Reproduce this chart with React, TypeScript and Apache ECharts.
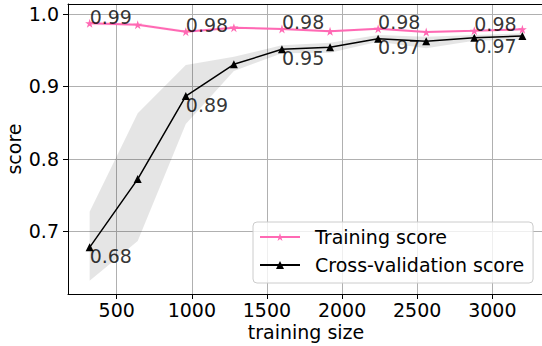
import React, { useEffect, useRef } from "react";
import * as echarts from "echarts";

const trainSizes = [320, 640, 960, 1280, 1600, 1920, 2240, 2560, 2880, 3200];
const trainMean = [0.9872, 0.9852, 0.9756, 0.9811, 0.9793, 0.9761, 0.9797, 0.9751, 0.9769, 0.9789];
const trainLower = [0.9845, 0.983, 0.9735, 0.9795, 0.9775, 0.9745, 0.978, 0.9735, 0.9755, 0.9775];
const trainUpper = [0.9899, 0.9874, 0.9777, 0.9827, 0.9811, 0.9777, 0.9814, 0.9767, 0.9783, 0.9803];
const cvMean = [0.6778, 0.7721, 0.8867, 0.9305, 0.9512, 0.954, 0.9659, 0.9623, 0.9673, 0.9696];
const cvLower = [0.6316, 0.6865, 0.848, 0.9213, 0.9457, 0.9465, 0.9617, 0.9526, 0.9631, 0.965];
const cvUpper = [0.7269, 0.8628, 0.9296, 0.941, 0.957, 0.9604, 0.971, 0.9686, 0.971, 0.9733];
const labelIndices = [0, 2, 4, 6, 8];
const xTicks = [500, 1000, 1500, 2000, 2500, 3000];
const yTicks = [0.7, 0.8, 0.9, 1.0];
const seriesNames = ["Training score", "Cross-validation score"];
const xTitle = "training size";
const yTitle = "score";

const FONT = "DejaVu Sans";
const PINK = "#ff69b4";

const starPath =
  "path://" +
  Array.from({ length: 10 }, (_, k) => {
    const r = k % 2 ? 0.382 : 1;
    const a = Math.PI / 2 + (k * Math.PI) / 5;
    return `${k ? "L" : "M"}${(r * Math.cos(a)).toFixed(4)} ${(-r * Math.sin(a)).toFixed(4)}`;
  }).join(" ") +
  " Z";

function bandSeries(lower: number[], upper: number[], fill: string) {
  return {
    type: "custom",
    silent: true,
    z: 1,
    data: trainSizes.map((x, i) => [x, lower[i], upper[i]]),
    encode: { x: 0, y: [1, 2] },
    renderItem: (params: any, api: any) => {
      if (params.dataIndex !== 0) return null;
      const pts: number[][] = [];
      for (let i = 0; i < trainSizes.length; i++) pts.push(api.coord([trainSizes[i], upper[i]]));
      for (let i = trainSizes.length - 1; i >= 0; i--) pts.push(api.coord([trainSizes[i], lower[i]]));
      return { type: "polygon", shape: { points: pts }, style: { fill, stroke: "none" } };
    },
  };
}

function labelSeries(name: string, mean: number[], below: boolean) {
  return {
    type: "scatter",
    name,
    silent: true,
    z: 6,
    symbol: "circle",
    symbolSize: 2,
    itemStyle: { color: "transparent" },
    data: labelIndices.map((i) => [trainSizes[i], mean[i]]),
    label: {
      show: true,
      position: "inside",
      align: "left",
      verticalAlign: below ? "top" : "bottom",
      offset: below ? [0, -1] : [0, 3],
      color: "#000",
      fontSize: 19,
      fontFamily: FONT,
      formatter: (p: any) => p.value[1].toFixed(2),
    },
  };
}

export default function App() {
  const ref = useRef<HTMLDivElement>(null);
  useEffect(() => {
    if (!ref.current) return;
    const chart = echarts.init(ref.current, undefined, { renderer: "svg" });
    const axisText = { color: "#000", fontSize: 19, fontFamily: FONT };
    chart.setOption({
      animation: false,
      textStyle: { fontFamily: FONT, color: "#000" },
      grid: { left: 68, top: 4, width: 476, height: 290, outerBoundsMode: "none", containLabel: false },
      legend: {
        data: seriesNames,
        orient: "vertical",
        left: 253,
        top: 222,
        itemWidth: 40,
        itemHeight: 10,
        itemGap: 6,
        padding: [4, 9, 7, 6],
        backgroundColor: "rgba(255,255,255,0.8)",
        borderColor: "#cccccc",
        borderWidth: 1,
        borderRadius: 4,
        textStyle: { ...axisText, lineHeight: 22, padding: [0, 0, 0, 10] },
      },
      xAxis: [
        {
          type: "value",
          min: 176,
          max: 3344,
          name: xTitle,
          nameLocation: "middle",
          nameGap: 28,
          nameMoveOverlap: false,
          nameTextStyle: axisText,
          axisLine: { show: true, lineStyle: { color: "#000", width: 1 } },
          axisTick: { show: true, length: 5, customValues: xTicks, lineStyle: { color: "#000" } },
          axisLabel: { ...axisText, margin: 6, customValues: xTicks, formatter: (v: number) => String(v) },
          splitLine: { show: true, lineStyle: { color: "#b0b0b0", width: 1 } },
        },
        {
          type: "value",
          position: "top",
          min: 176,
          max: 3344,
          axisLine: { show: true, lineStyle: { color: "#000", width: 1 } },
          axisTick: { show: false },
          axisLabel: { show: false },
          splitLine: { show: false },
        },
      ],
      yAxis: {
        type: "value",
        min: 0.6134,
        max: 1.0138,
        name: yTitle,
        nameLocation: "middle",
        nameGap: 45,
        nameMoveOverlap: false,
        nameTextStyle: axisText,
        axisLine: { show: true, lineStyle: { color: "#000", width: 1 } },
        axisTick: { show: true, length: 5, customValues: yTicks, lineStyle: { color: "#000" } },
        axisLabel: {
          ...axisText,
          margin: 9,
          customValues: yTicks,
          formatter: (v: number) => v.toFixed(1),
        },
        splitLine: { show: true, lineStyle: { color: "#b0b0b0", width: 1 } },
      },
      series: [
        bandSeries(trainLower, trainUpper, "rgba(255,105,180,0.1)"),
        bandSeries(cvLower, cvUpper, "rgba(0,0,0,0.1)"),
        {
          type: "line",
          name: seriesNames[0],
          z: 3,
          data: trainSizes.map((x, i) => [x, trainMean[i]]),
          symbol: starPath,
          symbolSize: 9,
          showSymbol: true,
          color: PINK,
          itemStyle: { color: PINK },
          lineStyle: { color: PINK, width: 2 },
        },
        {
          type: "line",
          name: seriesNames[1],
          z: 4,
          data: trainSizes.map((x, i) => [x, cvMean[i]]),
          symbol: "triangle",
          symbolSize: 8,
          showSymbol: true,
          color: "#000",
          itemStyle: { color: "#000" },
          lineStyle: { color: "#000", width: 1.5 },
        },
        labelSeries("trainLabels", trainMean, false),
        labelSeries("cvLabels", cvMean, true),
      ],
    });
    return () => chart.dispose();
  }, []);
  return (
    <div
      ref={ref}
      style={{ position: "fixed", left: 0, top: 0, width: 542, height: 346, background: "#fff" }}
    />
  );
}
